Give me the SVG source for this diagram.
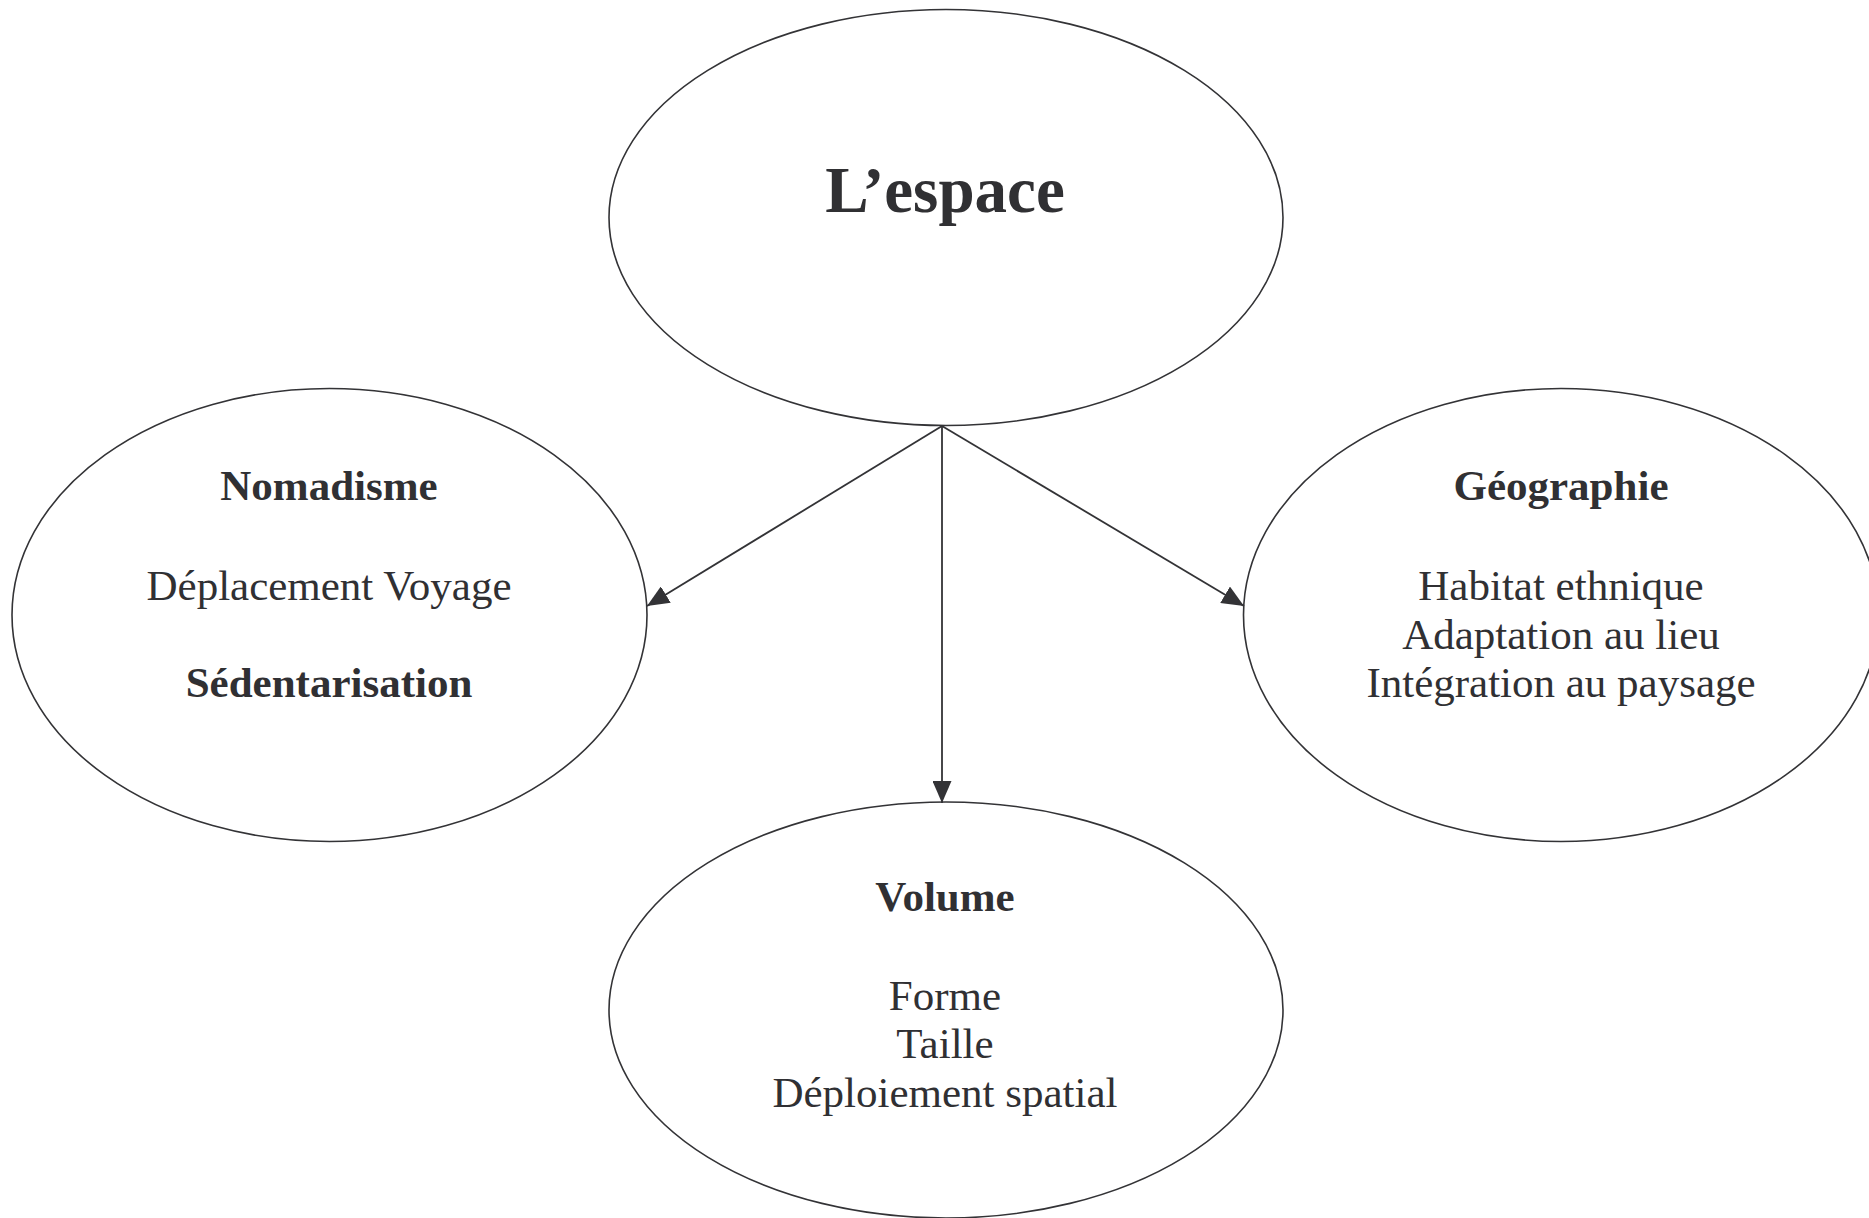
<svg xmlns="http://www.w3.org/2000/svg" width="1869" height="1218" viewBox="0 0 1869 1218">
<style>
.n{fill:#ffffff;stroke:#333336;stroke-width:1.6}
.t{font-family:"Liberation Serif","Times New Roman",serif;font-size:43px;fill:#303033;text-anchor:middle}
.b{font-weight:bold}
.c{stroke:#333336;stroke-width:1.8;fill:none}
</style>
<defs>
<marker id="ah" viewBox="0 0 22 19" refX="22" refY="9.5" markerWidth="22" markerHeight="19" markerUnits="userSpaceOnUse" orient="auto">
<path d="M0,0 L22,9.5 L0,19 Z" fill="#333336"/>
</marker>
</defs>
<rect width="1869" height="1218" fill="#ffffff"/>
<g id="n-espace">
<ellipse class="n" cx="946" cy="217.5" rx="337" ry="208"/>
<text class="t b" x="945" y="212" style="font-size:65px">L’espace</text>
</g>
<g id="n-nomadisme">
<ellipse class="n" cx="329.5" cy="615" rx="317.5" ry="226.5"/>
<text class="t b" x="329" y="500">Nomadisme</text>
<text class="t" x="329" y="600">Déplacement Voyage</text>
<text class="t b" x="329" y="697">Sédentarisation</text>
</g>
<g id="n-geographie">
<ellipse class="n" cx="1561" cy="615" rx="317.5" ry="226.5"/>
<text class="t b" x="1561" y="500">Géographie</text>
<text class="t" x="1561" y="600">Habitat ethnique</text>
<text class="t" x="1561" y="649">Adaptation au lieu</text>
<text class="t" x="1561" y="697">Intégration au paysage</text>
</g>
<g id="n-volume">
<ellipse class="n" cx="946" cy="1010" rx="337" ry="208"/>
<text class="t b" x="945" y="911">Volume</text>
<text class="t" x="945" y="1010">Forme</text>
<text class="t" x="945" y="1058">Taille</text>
<text class="t" x="945" y="1107">Déploiement spatial</text>
</g>
<g id="connectors">
<line class="c" x1="942" y1="426" x2="647" y2="606" marker-end="url(#ah)"/>
<line class="c" x1="942" y1="426" x2="942" y2="803" marker-end="url(#ah)"/>
<line class="c" x1="942" y1="426" x2="1244" y2="606" marker-end="url(#ah)"/>
</g>
</svg>
